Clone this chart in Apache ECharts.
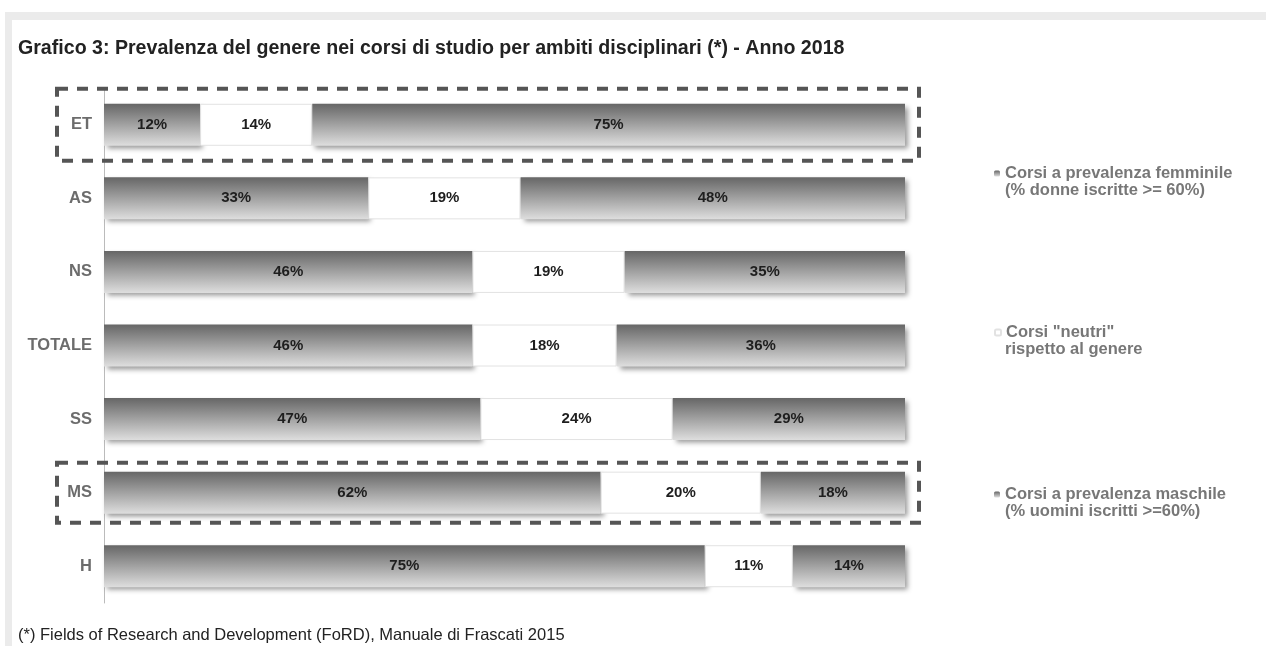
<!DOCTYPE html>
<html>
<head>
<meta charset="utf-8">
<script src="https://cdn.jsdelivr.net/npm/echarts@6/dist/echarts.min.js"></script>
<style>
  html, body { margin: 0; padding: 0; background: #fff; }
  #chart { width: 1266px; height: 646px; }
</style>
</head>
<body>
<div id="chart"></div>
<script>
// ambiti disciplinari, dall'alto verso il basso
const categories = ['ET', 'AS', 'NS', 'TOTALE', 'SS', 'MS', 'H']
const femminile = [12, 33, 46, 46, 47, 62, 75]
const neutri = [14, 19, 19, 18, 24, 20, 11]
const maschile = [75, 48, 35, 36, 29, 18, 14]
// ambiti evidenziati con il riquadro tratteggiato
const highlighted = ['ET', 'MS']

const legendNames = ['Corsi a prevalenza femminile', 'Corsi "neutri"', 'Corsi a prevalenza maschile']
const legendSub = ['(% donne iscritte >= 60%)', 'rispetto al genere', '(% uomini iscritti >=60%)']

const FONT = '"Liberation Sans", Arial, sans-serif'

const grayGradient = new echarts.graphic.LinearGradient(0, 0, 0, 1, [
  { offset: 0, color: '#666' },
  { offset: 1, color: '#dedede' }
])

const barShadow = {
  shadowColor: 'rgba(0,0,0,0.4)',
  shadowBlur: 5,
  shadowOffsetX: 3,
  shadowOffsetY: 3
}

const labelStyle = {
  show: true,
  position: 'inside',
  formatter: '{c}%',
  color: '#1e1e1e',
  fontFamily: FONT,
  fontWeight: 'bold',
  fontSize: 15
}

function makeSeries(name, data, itemStyle) {
  return {
    name: name,
    type: 'bar',
    stack: 'tot',
    barWidth: 42,
    data: data,
    itemStyle: itemStyle,
    label: labelStyle,
    emphasis: { disabled: true }
  }
}

const chart = echarts.init(document.getElementById('chart'))

// centro verticale della prima riga di ogni voce di legenda
const legendRows = [172, 331, 493]

const option = {
  animation: false,
  backgroundColor: '#fff',
  title: {
    text: 'Grafico 3: Prevalenza del genere nei corsi di studio per ambiti disciplinari (*) - Anno 2018',
    left: 18,
    top: 39,
    padding: 0,
    textStyle: { fontFamily: FONT, fontSize: 19.6, fontWeight: 'bold', color: '#222' }
  },
  grid: {
    left: 104,
    right: 361,
    top: 88,
    bottom: 43
  },
  legend: legendNames.map((n, i) => ({
    data: [n],
    left: 994,
    top: legendRows[i] - 7,
    padding: 0,
    itemWidth: 6,
    itemHeight: 6,
    selectedMode: false,
    textStyle: { fontFamily: FONT, fontSize: 16.5, fontWeight: 'bold', color: '#777' }
  })),
  xAxis: {
    type: 'value',
    min: 0,
    max: 100,
    show: false
  },
  yAxis: {
    type: 'category',
    inverse: true,
    data: categories,
    axisLine: { show: true, lineStyle: { color: '#bbb', width: 1 } },
    axisTick: { show: false },
    axisLabel: {
      margin: 12,
      color: '#6c6c6c',
      fontFamily: FONT,
      fontWeight: 'bold',
      fontSize: 16.5
    }
  },
  series: [
    makeSeries(legendNames[0], femminile, Object.assign({ color: grayGradient }, barShadow)),
    makeSeries(legendNames[1], neutri, { color: '#fff', borderColor: '#e2e2e2', borderWidth: 1 }),
    makeSeries(legendNames[2], maschile, Object.assign({ color: grayGradient }, barShadow))
  ]
}

chart.setOption(option)

// elementi grafici: bordi grigi, nota, seconda riga della legenda, riquadri tratteggiati
const graphics = [
  { type: 'rect', shape: { x: 5, y: 12, width: 1261, height: 8 }, style: { fill: '#ebebeb' }, silent: true },
  { type: 'rect', shape: { x: 5, y: 12, width: 7, height: 634 }, style: { fill: '#ebebeb' }, silent: true },
  {
    type: 'text',
    left: 18,
    top: 627,
    style: {
      text: '(*) Fields of Research and Development (FoRD), Manuale di Frascati 2015',
      font: '16.5px ' + FONT,
      fill: '#222'
    }
  }
]

legendSub.forEach((t, i) => {
  graphics.push({
    type: 'text',
    left: 1005,
    top: legendRows[i] + 10,
    style: { text: t, font: 'bold 16.5px ' + FONT, fill: '#777' }
  })
})

const left = chart.convertToPixel({ gridIndex: 0 }, [0, 0])[0]
const right = chart.convertToPixel({ gridIndex: 0 }, [100, 0])[0]
highlighted.forEach((c, i) => {
  const cy = chart.convertToPixel({ yAxisIndex: 0 }, c)
  const half = i === 0 ? 36 : 30
  graphics.push({
    type: 'rect',
    silent: true,
    z: 10,
    shape: { x: left - 47, y: cy - half, width: right - left + 61, height: half * 2 },
    style: { fill: 'none', stroke: '#555', lineWidth: 4, lineDash: [11, 9] }
  })
})

chart.setOption({ graphic: graphics })
</script>
</body>
</html>
